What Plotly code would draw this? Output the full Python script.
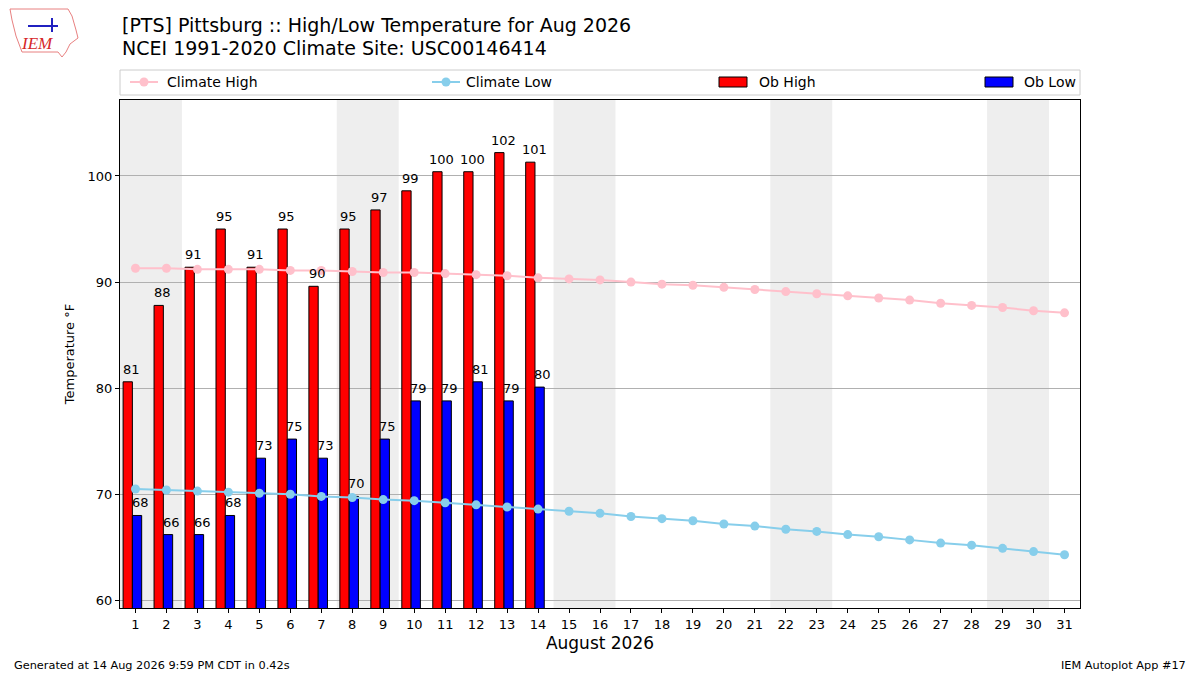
import plotly.graph_objects as go

days = list(range(1, 32))
climate_high = [91.3, 91.3, 91.2, 91.2, 91.2, 91.1, 91.1, 91.0, 90.9, 90.9, 90.8, 90.7, 90.6, 90.4,
                90.3, 90.2, 90.0, 89.8, 89.7, 89.5, 89.3, 89.1, 88.9, 88.7, 88.5, 88.3, 88.0, 87.8,
                87.6, 87.3, 87.1]
climate_low = [70.5, 70.4, 70.3, 70.2, 70.1, 70.0, 69.8, 69.7, 69.5, 69.4, 69.2, 69.0, 68.8, 68.6,
               68.4, 68.2, 67.9, 67.7, 67.5, 67.2, 67.0, 66.7, 66.5, 66.2, 66.0, 65.7, 65.4, 65.2,
               64.9, 64.6, 64.3]
ob_days = list(range(1, 15))
ob_high = [80.6, 87.8, 91.4, 95.0, 91.4, 95.0, 89.6, 95.0, 96.8, 98.6, 100.4, 100.4, 102.2, 101.3]
ob_low = [68.0, 66.2, 66.2, 68.0, 73.4, 75.2, 73.4, 69.8, 75.2, 78.8, 78.8, 80.6, 78.8, 80.1]
weekend_starts = [1, 8, 15, 22, 29]

FONT = "DejaVu Sans"
fig = go.Figure()

# weekend bands
for d in weekend_starts:
    fig.add_shape(type="rect", xref="x", yref="paper", x0=d - 0.5, x1=d + 1.5, y0=0, y1=1,
                  fillcolor="#EEEEEE", line_width=0, layer="below")

fig.add_trace(go.Bar(x=ob_days, y=ob_high, offset=-0.4, width=0.3, name="Ob High",
                     marker=dict(color="red", line=dict(color="black", width=1)), showlegend=False))
fig.add_trace(go.Bar(x=ob_days, y=ob_low, offset=-0.1, width=0.3, name="Ob Low",
                     marker=dict(color="blue", line=dict(color="black", width=1)), showlegend=False))
fig.add_trace(go.Scatter(x=days, y=climate_high, mode="lines+markers", name="Climate High",
                         line=dict(color="pink", width=2), marker=dict(color="pink", size=9),
                         showlegend=False))
fig.add_trace(go.Scatter(x=days, y=climate_low, mode="lines+markers", name="Climate Low",
                         line=dict(color="skyblue", width=2), marker=dict(color="skyblue", size=9),
                         showlegend=False))

# value labels
for d, v in zip(ob_days, ob_high):
    fig.add_annotation(x=d - 0.13, y=v, text=str(int(round(v))), showarrow=False,
                       yanchor="bottom", yshift=3, font=dict(family=FONT, size=13, color="black"))
for d, v in zip(ob_days, ob_low):
    fig.add_annotation(x=d + 0.15, y=v, text=str(int(round(v))), showarrow=False,
                       yanchor="bottom", yshift=3, font=dict(family=FONT, size=13, color="black"))


# pixel layout (reference picture coords) -> paper coords
def px(x):
    return (x - 120) / 960


def py(y):
    return (608 - y) / 508


# titles
fig.add_annotation(xref="paper", yref="paper", x=px(120), y=py(25), xanchor="left", yanchor="middle",
                   showarrow=False, text="[PTS] Pittsburg :: High/Low Temperature for Aug 2026",
                   font=dict(family=FONT, size=19, color="black"))
fig.add_annotation(xref="paper", yref="paper", x=px(120), y=py(48), xanchor="left", yanchor="middle",
                   showarrow=False, text="NCEI 1991-2020 Climate Site: USC00146414",
                   font=dict(family=FONT, size=19, color="black"))

# IEM logo (approximation): outline and text
fig.add_shape(type="path", xref="paper", yref="paper",
              path=(f"M {px(10)} {py(9)} L {px(68)} {py(9)} L {px(72)} {py(16)} L {px(76)} {py(30)} "
                    f"L {px(78)} {py(38)} L {px(70)} {py(44)} L {px(66)} {py(52)} L {px(62)} {py(57)} "
                    f"L {px(58)} {py(52)} L {px(22)} {py(52)} L {px(16)} {py(36)} L {px(12)} {py(20)} Z"),
              line=dict(color="#e88080", width=1), fillcolor="white", layer="above")
fig.add_annotation(xref="paper", yref="paper", x=px(37), y=py(44), xanchor="center",
                   yanchor="middle", showarrow=False, text="<i>IEM</i>",
                   font=dict(family="Liberation Serif", size=17, color="#d62728"))
fig.add_shape(type="line", xref="paper", yref="paper", x0=px(28), x1=px(58), y0=py(26), y1=py(26),
              line=dict(color="#2020c0", width=2), layer="above")
fig.add_shape(type="line", xref="paper", yref="paper", x0=px(52), x1=px(52), y0=py(18), y1=py(32),
              line=dict(color="#2020c0", width=2), layer="above")

# custom legend box
fig.add_shape(type="rect", xref="paper", yref="paper", x0=px(120), x1=px(1080), y0=py(95), y1=py(70),
              line=dict(color="#cccccc", width=1), fillcolor="white", layer="above")
legend_y = 82
items = [("Climate High", "line", "pink", 122, 165),
         ("Climate Low", "line", "skyblue", 424, 464),
         ("Ob High", "patch", "red", 719, 757),
         ("Ob Low", "patch", "blue", 985, 1022)]
for name, kind, color, x0, tx in items:
    if kind == "line":
        fig.add_shape(type="line", xref="paper", yref="paper", x0=px(x0 + 8), x1=px(x0 + 36),
                      y0=py(legend_y), y1=py(legend_y), line=dict(color=color, width=2), layer="above")
        fig.add_shape(type="circle", xref="paper", yref="paper", x0=px(x0 + 22 - 4.5), x1=px(x0 + 22 + 4.5),
                      y0=py(legend_y + 4.5), y1=py(legend_y - 4.5), fillcolor=color, line_width=0,
                      layer="above")
    else:
        fig.add_shape(type="rect", xref="paper", yref="paper", x0=px(x0), x1=px(x0 + 28),
                      y0=py(legend_y + 5), y1=py(legend_y - 5), fillcolor=color,
                      line=dict(color="black", width=1), layer="above")
    fig.add_annotation(xref="paper", yref="paper", x=px(tx), y=py(legend_y), xanchor="left",
                       yanchor="middle", showarrow=False, text=name,
                       font=dict(family=FONT, size=14, color="black"))

# footer
fig.add_annotation(xref="paper", yref="paper", x=px(12), y=py(665), xanchor="left", yanchor="middle",
                   showarrow=False, text="Generated at 14 Aug 2026 9:59 PM CDT in 0.42s",
                   font=dict(family=FONT, size=11.3, color="black"))
fig.add_annotation(xref="paper", yref="paper", x=px(1188), y=py(665), xanchor="right", yanchor="middle",
                   showarrow=False, text="IEM Autoplot App #17",
                   font=dict(family=FONT, size=11.3, color="black"))

# page has an 8px body margin: shrink the figure and shift by 8px
fig.update_layout(
    width=1192, height=667,
    margin=dict(l=112, r=120, t=92, b=67),
    paper_bgcolor="white", plot_bgcolor="white",
    barmode="overlay",
    font=dict(family=FONT, size=13, color="black"),
    showlegend=False,
)
fig.update_xaxes(range=[0.5, 31.5], tickmode="array", tickvals=days, ticktext=[str(d) for d in days],
                 showgrid=False, zeroline=False, showline=True, linecolor="black", linewidth=1,
                 mirror=True, ticks="outside", ticklen=4, tickcolor="black",
                 title=dict(text="August 2026", font=dict(family=FONT, size=17), standoff=6),
                 tickfont=dict(family=FONT, size=13))
fig.update_yaxes(range=[59.28, 107.16], tickvals=[60, 70, 80, 90, 100],
                 showgrid=True, gridcolor="#b0b0b0", gridwidth=1, zeroline=False,
                 showline=True, linecolor="black", linewidth=1, mirror=True,
                 ticks="outside", ticklen=4, tickcolor="black",
                 title=dict(text="Temperature °F", font=dict(family=FONT, size=13), standoff=10),
                 tickfont=dict(family=FONT, size=13))

fig.write_html("out.html")
